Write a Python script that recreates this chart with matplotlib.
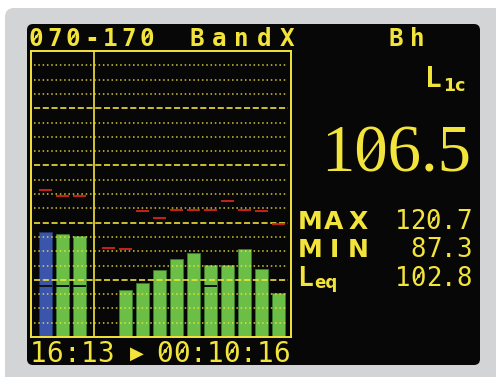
import numpy as np
import matplotlib
matplotlib.use("Agg")
import matplotlib.pyplot as plt
from matplotlib.patches import FancyBboxPatch

plt.rcParams["lines.scale_dashes"] = False

W, H = 496, 377
YEL = "#f3e43c"
GREEN = "#6cbf46"
BLUE = "#3a55aa"
RED = "#d8221e"

# levels in dB: three overall channels, then eleven bands
overall_level = [56.8, 55.9, 55.3]
overall_max = [71.4, 69.4, 69.4]
overall_min = [37.7, 37.7, 37.7]
band_level = [15.0, 36.4, 38.8, 43.4, 47.3, 49.4, 45.3, 45.3, 50.8, 43.8, 35.3]
band_max = [51.0, 50.7, 64.2, 61.5, 64.5, 64.5, 64.5, 67.6, 64.5, 64.2, 59.6]
band_min = [np.nan, np.nan, np.nan, np.nan, np.nan, np.nan, 37.7,
            np.nan, np.nan, np.nan, np.nan]
y_range = (20, 120)
grid_step = 5

header = "070-170"
mode = "BandX"
weighting = "Bh"
l_value = 106.5
stats = [("MAX", 120.7), ("MIN", 87.3)]
leq = 102.8
clock = "16:13"
elapsed = "00:10:16"

fig = plt.figure(figsize=(W / 100, H / 100), dpi=100)
fig.patch.set_facecolor("white")

# pixel-space layer for bezel, screen and readouts
bg = fig.add_axes([0, 0, 1, 1])
bg.set_xlim(0, W)
bg.set_ylim(H, 0)
bg.axis("off")
bg.add_patch(FancyBboxPatch((5, 8), W + 20, H + 20,
                            boxstyle="round,pad=0,rounding_size=9",
                            fc="#d3d4d5", ec="none"))
bg.add_patch(FancyBboxPatch((27, 24), 453, 341,
                            boxstyle="round,pad=0,rounding_size=6",
                            fc="#070707", ec="none"))

MONO = "DejaVu Sans Mono"
SANS = "DejaVu Sans"


def lcd(x0, y, s, pitch, size, weight="bold", family=MONO):
    """Place characters on a fixed pitch; zeros get the display's slash."""
    em = size * 100 / 72
    for i, ch in enumerate(s):
        cx = x0 + i * pitch
        bg.text(cx, y, ch, color=YEL, fontsize=size, fontweight=weight,
                family=family, ha="center", va="baseline")
        if ch == "0":
            bg.plot([cx - 0.14 * em, cx + 0.14 * em],
                    [y - 0.17 * em, y - 0.56 * em],
                    color=YEL, lw=1.0 if weight == "normal" else 1.3,
                    solid_capstyle="butt")


def lcd_right(x1, y, s, pitch, size, weight="normal"):
    lcd(x1 - pitch * (len(s) - 0.5), y, s, pitch, size, weight)


lcd(36.3, 45.7, header, 18.4, 17.5)
lcd(197, 45.7, mode, 22.4, 17.5)
lcd(395.5, 45.7, weighting, 22, 17.5)

bg.text(425, 86.7, "L", color=YEL, fontsize=20, fontweight="bold",
        family=MONO, ha="left", va="baseline")
bg.text(443, 90.7, "1c", color=YEL, fontsize=12.5, fontweight="bold",
        family=SANS, ha="left", va="baseline")

big_em = 48 * 100 / 72
bg.text(471, 171.7, f"{l_value:.1f}", color=YEL, fontsize=48,
        family="Liberation Serif", ha="right", va="baseline")
# slash through the large zero (second digit of "106.5")
zc = 471 - big_em * 1.5 + 1
bg.plot([zc - 8.5, zc + 9.5], [162, 137], color=YEL, lw=1.6)

for (name, val), base in zip(stats, [229, 257.3]):
    lcd(310, base, name, 24, 18, family=SANS)
    lcd_right(471.5, base, f"{val:.1f}", 15.2, 18.5)
bg.text(297, 286, "L", color=YEL, fontsize=19, fontweight="bold",
        family=MONO, ha="left", va="baseline")
bg.text(314, 288.5, "eq", color=YEL, fontsize=12, fontweight="bold",
        family=SANS, ha="left", va="baseline")
lcd_right(471.5, 286, f"{leq:.1f}", 15.2, 18.5)

lcd(38.1, 361.7, clock, 16.9, 20, weight="normal")
bg.text(136.7, 358.5, "\u25b6", color=YEL, fontsize=13, family=SANS,
        ha="center", va="baseline")
lcd(164.7, 361.7, elapsed, 16.7, 20, weight="normal")

# bar graph
ax = fig.add_axes([31 / W, 40 / H, 260 / W, 286 / H])
ax.set_facecolor("none")
x_all = np.arange(len(overall_level))
x_band = np.arange(len(band_level)) + 3.68
ax.set_xlim(-0.85, 14.40)
ax.set_ylim(*y_range)
bw = 0.76
base = y_range[0] - 50

ax.bar(x_all[:1], np.array(overall_level[:1]) - base, width=bw, bottom=base,
       color=BLUE, ec="#22336e", lw=0.6, zorder=2)
ax.bar(x_all[1:], np.array(overall_level[1:]) - base, width=bw, bottom=base,
       color=GREEN, ec="#3d7a2c", lw=0.6, zorder=2)
ax.bar(x_band, np.array(band_level) - base, width=bw, bottom=base,
       color=GREEN, ec="#3d7a2c", lw=0.6, zorder=2)

xs = np.concatenate([x_all, x_band])
mx = np.concatenate([overall_max, band_max])
mn = np.concatenate([overall_min, band_min])
ax.hlines(mx, xs - bw / 2, xs + bw / 2, color=RED, lw=1.3, zorder=4)
ok = ~np.isnan(mn)
ax.hlines(mn[ok], xs[ok] - bw / 2, xs[ok] + bw / 2, color="#111111",
          lw=1.4, zorder=2.5)

for k in range(1, int((y_range[1] - y_range[0]) / grid_step)):
    yv = y_range[0] + k * grid_step
    if k % 4 == 0:
        ax.axhline(yv, 0.012, 0.988, color=YEL, lw=1.3,
                   ls=(0, (4.4, 1.9)), zorder=3, alpha=0.9)
    else:
        ax.axhline(yv, 0.012, 0.988, color=YEL, lw=1.2,
                   ls=(0, (1.1, 2.0)), zorder=3, alpha=0.8)
ax.axvline(2.84, color=YEL, lw=1.2, zorder=3)

for s in ax.spines.values():
    s.set_color(YEL)
    s.set_linewidth(1.4)
ax.set_xticks([])
ax.set_yticks([])

plt.savefig("out.png", dpi=100, facecolor=fig.get_facecolor())
